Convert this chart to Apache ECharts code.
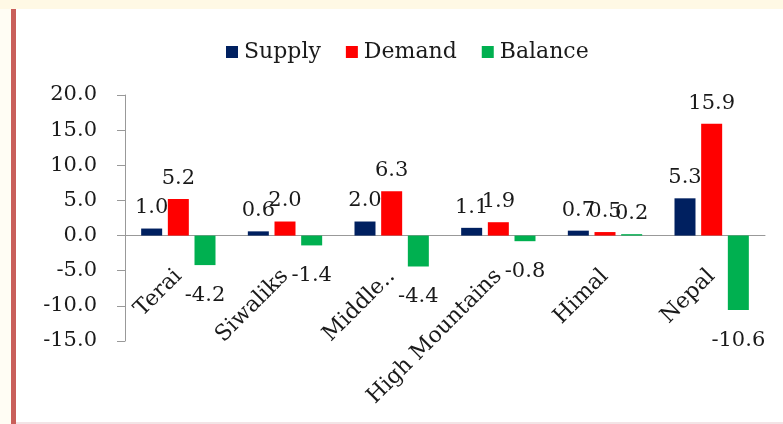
<!DOCTYPE html>
<html>
<head>
<meta charset="utf-8">
<script src="https://cdn.jsdelivr.net/npm/echarts@6/dist/echarts.min.js"></script>
<style>
html,body{margin:0;padding:0;background:#fff;}
#c{width:783px;height:424px;}
</style>
</head>
<body>
<div id="c"></div>
<script>
const categories = ['Terai', 'Siwaliks', 'Middle..', 'High Mountains', 'Himal', 'Nepal'];
const supply = [1.0, 0.6, 2.0, 1.1, 0.7, 5.3];
const demand = [5.2, 2.0, 6.3, 1.9, 0.5, 15.9];
const balance = [-4.2, -1.4, -4.4, -0.8, 0.2, -10.6];
const seriesNames = ['Supply', 'Demand', 'Balance'];
const colors = ['#002060', '#FF0000', '#00B050'];

const FONT = 'DejaVu Serif';
const TXT = '#1a1a1a';

function items(arr) {
  return arr.map(v => ({
    value: v,
    label: v < 0 ? { position: 'bottom', distance: 20 } : { position: 'top', distance: 10 }
  }));
}

const chart = echarts.init(document.getElementById('c'));
chart.setOption({
  animation: false,
  backgroundColor: '#ffffff',
  textStyle: { fontFamily: FONT },
  graphic: [
    { type: 'rect', shape: { x: 0, y: 0, width: 783, height: 9 }, style: { fill: '#FFF9E5' }, silent: true },
    { type: 'rect', shape: { x: 0, y: 9, width: 11, height: 415 }, style: { fill: '#FFFDF4' }, silent: true },
    { type: 'rect', shape: { x: 11, y: 9, width: 5, height: 415 }, style: { fill: '#C95F5A' }, silent: true },
    { type: 'rect', shape: { x: 16, y: 422, width: 767, height: 2 }, style: { fill: '#F3E4E6' }, silent: true }
  ],
  legend: {
    data: seriesNames,
    left: 221,
    top: 36,
    icon: 'rect',
    itemWidth: 12,
    itemHeight: 12,
    itemGap: 25,
    textStyle: { fontFamily: FONT, fontSize: 22, color: TXT, padding: [0, 0, 0, 1] }
  },
  grid: { left: 125, right: 18, top: 95, bottom: 83, containLabel: false, outerBoundsMode: 'none' },
  xAxis: {
    type: 'category',
    data: categories,
    axisLine: { onZero: true, lineStyle: { color: '#999999', width: 1 } },
    axisTick: { show: false },
    axisLabel: {
      rotate: 45,
      margin: -68,
      interval: 0,
      fontFamily: FONT,
      fontSize: 22,
      color: TXT
    }
  },
  yAxis: {
    type: 'value',
    min: -15,
    max: 20,
    interval: 5,
    splitLine: { show: false },
    axisLine: { show: true, lineStyle: { color: '#999999', width: 1 } },
    axisTick: { show: true, length: 8, lineStyle: { color: '#999999' } },
    axisLabel: {
      margin: 28,
      fontFamily: FONT,
      fontSize: 21,
      color: TXT,
      formatter: v => v.toFixed(1)
    }
  },
  series: [supply, demand, balance].map((arr, i) => ({
    name: seriesNames[i],
    type: 'bar',
    data: items(arr),
    barWidth: 21,
    barGap: '27%',
    itemStyle: { color: colors[i] },
    label: {
      show: true,
      fontFamily: FONT,
      fontSize: 21,
      color: TXT,
      formatter: p => p.value.toFixed(1)
    }
  }))
});
</script>
</body>
</html>
